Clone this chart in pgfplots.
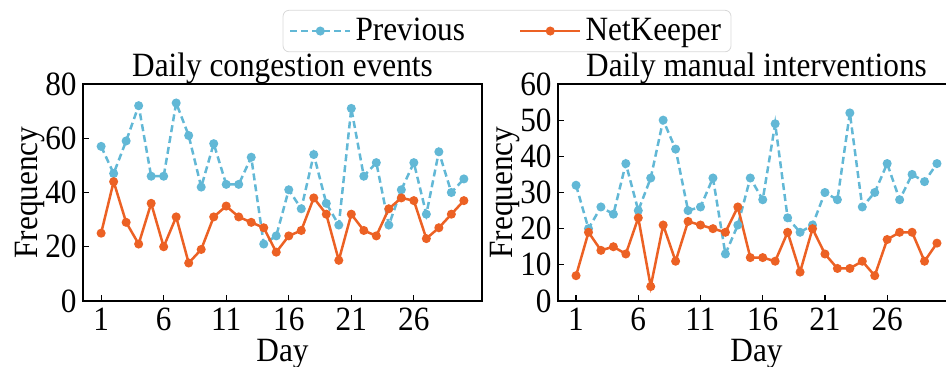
\documentclass[border=0pt]{standalone}
\usepackage{fontspec}
\setmainfont{Liberation Serif}[FakeStretch=0.92]
\usepackage{pgfplots}
\pgfplotsset{compat=1.18}
\definecolor{prevc}{RGB}{98,184,214}
\definecolor{netc}{RGB}{236,97,36}
\newcommand{\bigf}{\fontsize{17}{20}\selectfont}
\pgfplotsset{
  mystyle/.style={
    scale only axis, height=108.5pt,
    xmin=-0.45, xmax=31.45, ymin=0,
    xtick={1,6,11,16,21,26},
    tick align=inside, xtick pos=bottom, ytick pos=left,
    major tick length=3pt,
    tick style={black, line width=0.6pt},
    axis line style={line width=0.6pt},
    /pgf/number format/assume math mode=true,
    ticklabel style={font=\bigf},
    yticklabel style={inner xsep=3pt},
    label style={font=\bigf},
    every axis title shift=0pt,
    title style={font=\bigf, at={(0.5,1)}, anchor=base, yshift=3.5pt},
    xlabel=Day, ylabel=Frequency,
    xlabel style={at={(axis description cs:0.5,0)}, anchor=base, yshift=-30.5pt},
    ylabel style={at={(axis description cs:-0.133,0.5)}, anchor=center},
    legend image code/.code={\draw[mark repeat=2,mark phase=2,##1] plot coordinates {(0pt,0pt)(15pt,0pt)(30pt,0pt)};},
  },
  prevs/.style={color=prevc, line width=1.25pt, dash pattern=on 3.5pt off 2pt, mark=*, mark size=1.6pt, mark options={solid}},
  nets/.style={color=netc, line width=1.25pt, mark=*, mark size=1.6pt, mark options={solid}},
}
\begin{document}
\begin{tikzpicture}
\begin{axis}[mystyle, at={(41.5pt,33pt)}, anchor=south west, width=199.5pt,
  ymax=80, ytick={0,20,40,60,80}, title={Daily congestion events},
  legend style={at={(1.0627,1.244)}, anchor=center, legend columns=2, draw=black!15, rounded corners=3pt, font=\bigf,
    /tikz/every even column/.append style={column sep=25pt}}]
\addplot[prevs] coordinates {
(1,57)(2,47)(3,59)(4,72)(5,46)(6,46)(7,73)(8,61)(9,42)(10,58)
(11,43)(12,43)(13,53)(14,21)(15,24)(16,41)(17,34)(18,54)(19,36)(20,28)
(21,71)(22,46)(23,51)(24,28)(25,41)(26,51)(27,32)(28,55)(29,40)(30,45)};
\addlegendentry{Previous}
\addplot[nets] coordinates {
(1,25)(2,44)(3,29)(4,21)(5,36)(6,20)(7,31)(8,14)(9,19)(10,31)
(11,35)(12,31)(13,29)(14,27)(15,18)(16,24)(17,26)(18,38)(19,32)(20,15)
(21,32)(22,26)(23,24)(24,34)(25,38)(26,37)(27,23)(28,27)(29,32)(30,37)};
\addlegendentry{NetKeeper}
\end{axis}
\begin{axis}[mystyle, at={(279pt,33pt)}, anchor=south west, width=198.5pt,
  ymax=60, ytick={0,10,20,30,40,50,60}, title={Daily manual interventions}]
\addplot[prevs] coordinates {
(1,32)(2,20)(3,26)(4,24)(5,38)(6,25)(7,34)(8,50)(9,42)(10,25)
(11,26)(12,34)(13,13)(14,21)(15,34)(16,28)(17,49)(18,23)(19,19)(20,21)
(21,30)(22,28)(23,52)(24,26)(25,30)(26,38)(27,28)(28,35)(29,33)(30,38)};
\addplot[nets] coordinates {
(1,7)(2,19)(3,14)(4,15)(5,13)(6,23)(7,4)(8,21)(9,11)(10,22)
(11,21)(12,20)(13,19)(14,26)(15,12)(16,12)(17,11)(18,19)(19,8)(20,20)
(21,13)(22,9)(23,9)(24,11)(25,7)(26,17)(27,19)(28,19)(29,11)(30,16)};
\end{axis}
\pgfresetboundingbox
\path[use as bounding box] (0pt,0pt) rectangle (473pt,183.5pt);
\end{tikzpicture}
\end{document}
